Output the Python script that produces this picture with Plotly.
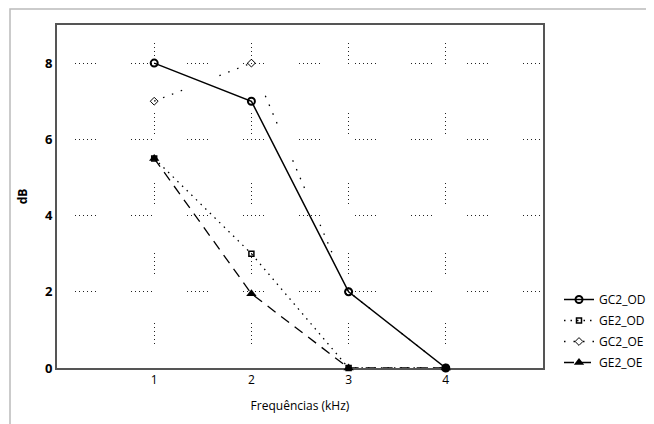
import plotly.graph_objects as go

freqs = [1, 2, 3, 4]
gc2_od = [8, 7, 2, 0]
ge2_od = [5.5, 3, 0, 0]
gc2_oe = [7, 8, 2, 0]
ge2_oe = [5.5, 1.95, 0, 0]
x_ticks = [1, 2, 3, 4]
y_ticks = [0, 2, 4, 6, 8]

FONT = "Open Sans"
# page body has an 8px margin, so the figure is 8px smaller than the window
W, H = 646, 416
L, T, PW, PH = 49, 17, 486, 343


def px(xp):
    return (xp - L) / PW


def py(yp):
    return (T + PH - yp) / PH


fig = go.Figure()
fig.add_trace(go.Scatter(
    x=freqs, y=gc2_od, name="GC2_OD", mode="lines+markers", legendgroup="a",
    line=dict(color="black", width=1.5),
    marker=dict(symbol="circle-open", size=7, color="black", line=dict(width=2)),
    cliponaxis=False))
fig.add_trace(go.Scatter(
    x=freqs, y=ge2_od, name="GE2_OD", mode="lines+markers", legendgroup="b",
    line=dict(color="black", width=1.3, dash="1.5px,5px"),
    marker=dict(symbol="square-open", size=5, color="black", line=dict(width=1.5)),
    cliponaxis=False))
fig.add_trace(go.Scatter(
    x=freqs, y=gc2_oe, name="GC2_OE", mode="lines+markers", legendgroup="c",
    line=dict(color="black", width=1.3, dash="1.5px,8px,1.5px,8px,1.5px,8px,1.5px,40px"),
    marker=dict(symbol="diamond-open", size=6, color="black", line=dict(width=1)),
    cliponaxis=False))
fig.add_trace(go.Scatter(
    x=freqs, y=ge2_oe, name="GE2_OE", mode="lines+markers", legendgroup="d",
    line=dict(color="black", width=1.3, dash="10px,7px"),
    marker=dict(symbol="triangle-up", size=9, color="black"),
    cliponaxis=False))

hdash = "0px,18px,1px,3px,1px,3px,1px,3px,1px,3px,1px,3px,1px,17px"
vdash = "0px,18px,1px,3px,1px,3px,1px,3px,1px,3px,1px,3px,1px,31px"

fig.update_layout(
    width=W, height=H,
    margin=dict(l=L, r=W - L - PW, t=T, b=H - T - PH, autoexpand=False),
    paper_bgcolor="white", plot_bgcolor="white",
    font=dict(family=FONT, color="black", size=12),
    showlegend=True,
    legend=dict(x=px(551), y=py(277), xanchor="left", yanchor="top",
                font=dict(size=12, family=FONT), bgcolor="rgba(0,0,0,0)",
                tracegroupgap=2),
    xaxis=dict(range=[0, 5], tickvals=x_ticks, showgrid=True, automargin=False,
               gridcolor="#222", gridwidth=1, griddash=vdash,
               showline=True, linecolor="#555", linewidth=2, mirror=True,
               zeroline=False, layer="below traces",
               tickfont=dict(size=12, family=FONT),
               title=dict(text="Frequências (kHz)", font=dict(size=12, family=FONT), standoff=14)),
    yaxis=dict(range=[0, 9], tickvals=y_ticks, showgrid=True, automargin=False,
               gridcolor="#222", gridwidth=1, griddash=hdash,
               showline=True, linecolor="#555", linewidth=2, mirror=True,
               zeroline=False, layer="below traces",
               tickfont=dict(size=13, family=FONT, weight="bold"),
               title=dict(text="dB", font=dict(size=12, family=FONT, weight="bold"), standoff=15)),
    shapes=[dict(type="rect", xref="paper", yref="paper",
                 x0=px(2), x1=px(700), y0=py(470), y1=py(1),
                 line=dict(color="#bbb", width=1.5), layer="below")],
)

fig.write_html("out.html")
